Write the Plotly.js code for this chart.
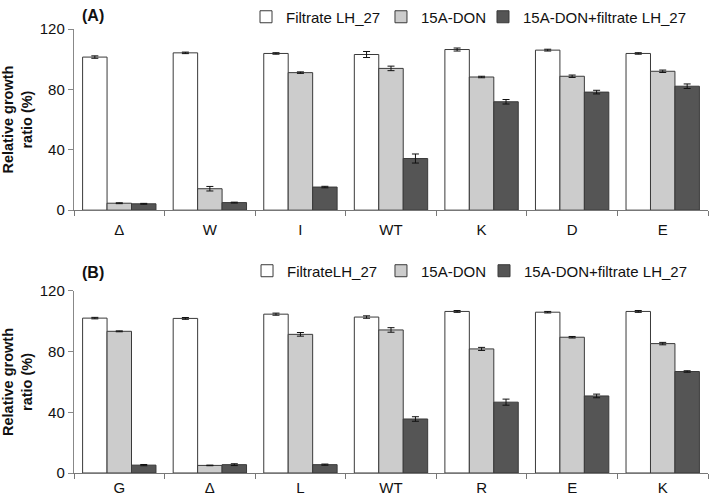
<!DOCTYPE html>
<html>
<head>
<meta charset="utf-8">
<script src="https://cdn.plot.ly/plotly-3.0.1.min.js"></script>
<style>html,body{margin:0;padding:0;background:#fff;}#chart{width:709px;height:496px;}</style>
</head>
<body>
<div id="chart"></div>
<script>
// Panel A data
const catsA = ["Δ", "W", "I", "WT", "K", "D", "E"];
const filtrateA = [101.4, 104.2, 103.8, 103.1, 106.4, 106.0, 103.8];
const filtrateErrA = [0.8, 0.5, 0.5, 2.0, 1.0, 0.6, 0.5];
const donA = [4.6, 14.2, 91.1, 93.9, 88.2, 88.7, 92.0];
const donErrA = [0.3, 1.5, 0.5, 1.5, 0.5, 0.8, 0.8];
const mixA = [4.2, 5.0, 15.3, 34.2, 71.8, 78.2, 82.1];
const mixErrA = [0.3, 0.3, 0.5, 3.0, 1.5, 1.2, 1.5];

// Panel B data
const catsB = ["G", "Δ", "L", "WT", "R", "E", "K"];
const filtrateB = [102.1, 101.9, 104.7, 102.8, 106.5, 106.0, 106.5];
const filtrateErrB = [0.5, 0.6, 0.7, 0.8, 0.6, 0.5, 0.6];
const donB = [93.4, 5.0, 91.4, 94.3, 81.8, 89.5, 85.3];
const donErrB = [0.3, 0.2, 1.2, 1.5, 1.0, 0.5, 0.8];
const mixB = [5.2, 5.5, 5.5, 35.6, 46.7, 50.8, 66.9];
const mixErrB = [0.4, 0.6, 0.4, 1.5, 2.0, 1.2, 0.5];

const namesA = ["Filtrate LH_27", "15A-DON", "15A-DON+filtrate LH_27"];
const namesB = ["FiltrateLH_27", "15A-DON", "15A-DON+filtrate LH_27"];

const fills = ["#ffffff", "#cccccc", "#555555"];
const outline = "#3a3a3a";

function mk(cats, vals, errs, name, i, xa, ya, leg) {
  return {
    type: "bar", x: cats, y: vals, name: name,
    xaxis: xa, yaxis: ya, legend: leg,
    marker: {color: fills[i], line: {color: outline, width: 1}},
    error_y: {type: "data", array: errs, visible: true, color: "#111", thickness: 1, width: 3.5},
    hoverinfo: "skip"
  };
}

const data = [
  mk(catsA, filtrateA, filtrateErrA, namesA[0], 0, "x", "y", "legend"),
  mk(catsA, donA, donErrA, namesA[1], 1, "x", "y", "legend2"),
  mk(catsA, mixA, mixErrA, namesA[2], 2, "x", "y", "legend3"),
  mk(catsB, filtrateB, filtrateErrB, namesB[0], 0, "x2", "y2", "legend4"),
  mk(catsB, donB, donErrB, namesB[1], 1, "x2", "y2", "legend5"),
  mk(catsB, mixB, mixErrB, namesB[2], 2, "x2", "y2", "legend6")
];

const font = "Liberation Sans, Arial, sans-serif";
const xax = {
  type: "category", showline: true, linecolor: "#777", linewidth: 1.2,
  ticks: "outside", tickson: "boundaries", ticklen: 5, tickcolor: "#777",
  ticklabelstandoff: 6,
  tickfont: {family: font, size: 15, color: "#111"}, showgrid: false, zeroline: false,
  fixedrange: true
};
const yax = {
  range: [0, 120], tickvals: [0, 40, 80, 120], showline: true, linecolor: "#888", linewidth: 1.2,
  ticks: "outside", ticklen: 5, tickcolor: "#888", showgrid: false, zeroline: false,
  tickfont: {family: font, size: 15, color: "#111"},
  title: {text: "<b>Relative growth<br>ratio (%)</b>", font: {family: font, size: 14.5, color: "#111"}, standoff: 3},
  fixedrange: true
};
function leg(x, y) {
  return {
    orientation: "h", xref: "paper", yref: "paper", xanchor: "left", yanchor: "middle",
    x: x, y: y,
    font: {family: font, size: 15, color: "#111"}, bgcolor: "rgba(0,0,0,0)"
  };
}

const layout = {
  width: 709, height: 496,
  margin: {l: 74, r: 1, t: 27, b: 23},
  paper_bgcolor: "#fff", plot_bgcolor: "#fff",
  barmode: "group", bargap: 0.19, bargroupgap: 0,
  showlegend: true,
  xaxis: Object.assign({}, xax, {anchor: "y", domain: [0, 1]}),
  yaxis: Object.assign({}, yax, {anchor: "x", domain: [0.592, 1]}),
  xaxis2: Object.assign({}, xax, {anchor: "y2", domain: [0, 1], ticklabelstandoff: 1}),
  yaxis2: Object.assign({}, yax, {anchor: "x2", domain: [0, 0.41]}),
  legend: leg(0.2713, 1.027),
  legend2: leg(0.4842, 1.027),
  legend3: leg(0.6451, 1.027),
  legend4: leg(0.2729, 0.455),
  legend5: leg(0.4842, 0.455),
  legend6: leg(0.6467, 0.455),
  annotations: [
    {text: "<b>(A)</b>", xref: "paper", yref: "paper", x: 0.01, y: 1.03, xanchor: "left", yanchor: "middle",
     showarrow: false, font: {family: font, size: 16, color: "#111"}},
    {text: "<b>(B)</b>", xref: "paper", yref: "paper", x: 0.01, y: 0.452, xanchor: "left", yanchor: "middle",
     showarrow: false, font: {family: font, size: 16, color: "#111"}}
  ]
};

Plotly.newPlot("chart", data, layout, {displayModeBar: false, staticPlot: true});
</script>
</body>
</html>
